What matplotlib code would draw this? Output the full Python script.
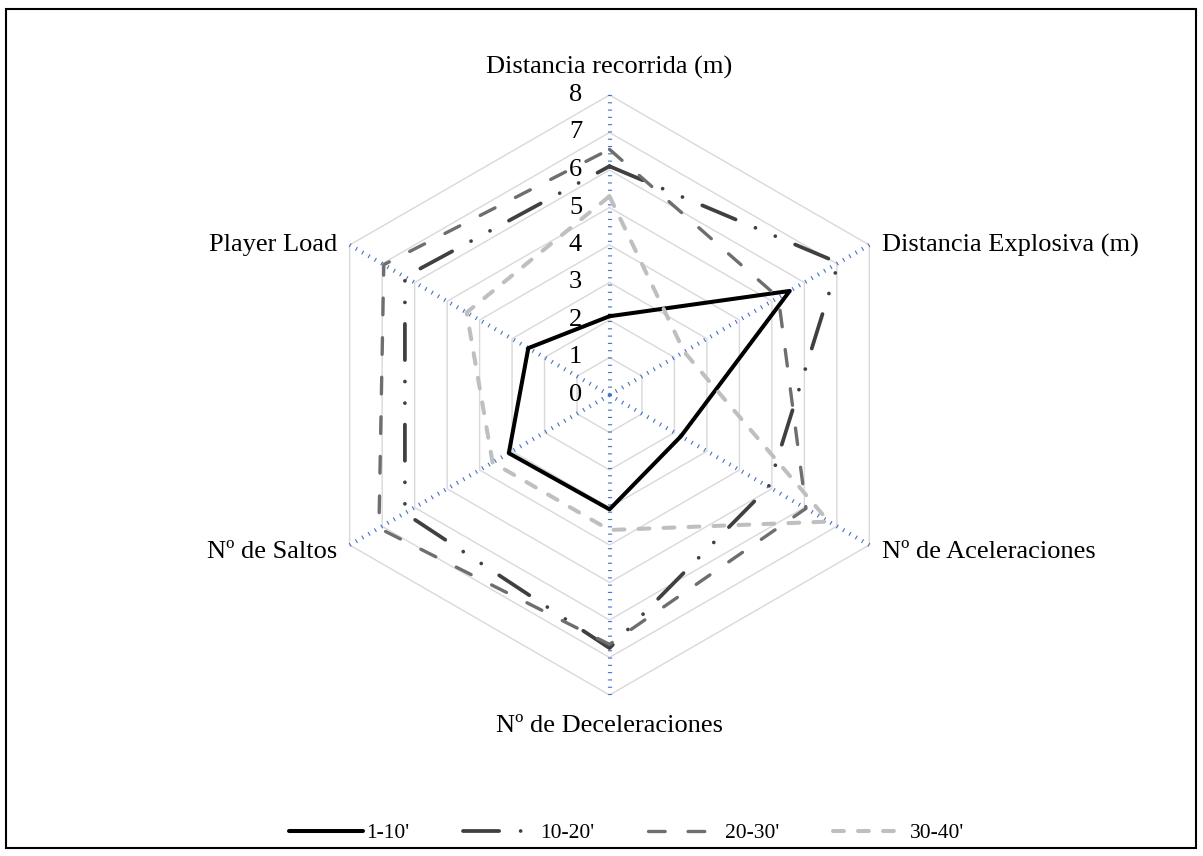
import numpy as np
import matplotlib
matplotlib.use("Agg")
import matplotlib.pyplot as plt
from matplotlib.transforms import offset_copy
from matplotlib.patches import Rectangle

plt.rcParams["font.family"] = ["Liberation Serif", "DejaVu Serif"]
plt.rcParams["lines.scale_dashes"] = False

# Indicator names (clockwise from the top)
categories = [
    "Distancia recorrida (m)",
    "Distancia Explosiva (m)",
    "Nº de Aceleraciones",
    "Nº de Deceleraciones",
    "Nº de Saltos",
    "Player Load",
]

# Values per match period
period_labels = ["1-10'", "10-20'", "20-30'", "30-40'"]
p1_10 = [2.1, 5.55, 2.2, 3.05, 3.1, 2.5]
p10_20 = [6.1, 7.05, 4.9, 6.75, 6.3, 6.3]
p20_30 = [6.55, 5.2, 6.05, 6.65, 7.1, 6.95]
p30_40 = [5.3, 2.3, 6.75, 3.6, 3.6, 4.4]

ring_values = [1, 2, 3, 4, 5, 6, 7, 8]
tick_labels = ["0", "1", "2", "3", "4", "5", "6", "7", "8"]
r_max = 8

W, H, DPI = 1203, 856, 100
fig = plt.figure(figsize=(W / DPI, H / DPI), dpi=DPI)

cx, cy, rad = 609.5, 395.0, 300.0
ax = fig.add_axes([(cx - rad) / W, (H - cy - rad) / H, 2 * rad / W, 2 * rad / H],
                  projection="polar")
ax.set_theta_offset(np.pi / 2)
ax.set_theta_direction(-1)
ax.set_ylim(0, r_max)
ax.axis("off")

n = len(categories)
theta = np.arange(n) * 2 * np.pi / n
theta_closed = np.append(theta, theta[0])

# hexagonal rings
for rv in ring_values:
    ax.plot(theta_closed, [rv] * (n + 1), color="#d9d9d9", lw=1.0, zorder=1,
            clip_on=False)

# spokes drawn as short hash marks across the axis line
for t in theta:
    ax.plot([t, t], [0, r_max], color="#4472c4", lw=3.0,
            linestyle=(0, (0.8, 4.45)), dash_capstyle="butt",
            zorder=2, clip_on=False)

# radial tick labels along the top spoke
tick_tr = offset_copy(ax.transData, fig=fig, x=-34, y=0, units="dots")
for k, lab in enumerate(tick_labels):
    ax.text(0, k, lab, transform=tick_tr, ha="center", va="center",
            fontsize=19, color="#000000", zorder=5)

# category labels around the hexagon: (dx, dy) in pixels, alignment
label_specs = [
    (0, 28, "center"),
    (13, 0, "left"),
    (13, -7, "left"),
    (0, -31, "center"),
    (-12, -7, "right"),
    (-12, 0, "right"),
]
for t, name, (dx, dy, ha) in zip(theta, categories, label_specs):
    tr = offset_copy(ax.transData, fig=fig, x=dx, y=dy, units="dots")
    ax.text(t, r_max, name, transform=tr, ha=ha, va="center", fontsize=19,
            color="#000000")

styles = [
    dict(color="#000000", lw=2.9, linestyle="-"),
    dict(color="#404040", lw=2.7,
         linestyle=(0, (26.0, 15.5, 0.01, 15.5, 0.01, 15.5))),
    dict(color="#6e6e6e", lw=2.4, linestyle=(0, (12.0, 16.5))),
    dict(color="#bfbfbf", lw=2.9, linestyle=(0, (7.8, 10.2))),
]
series = [p1_10, p10_20, p20_30, p30_40]
handles = []
for vals, lab, st in zip(series, period_labels, styles):
    v = np.append(vals, vals[0])
    (ln,) = ax.plot(theta_closed, v, label=lab, zorder=3,
                    solid_capstyle="round", dash_capstyle="round",
                    solid_joinstyle="round", clip_on=False, **st)
    handles.append(ln)

fig.legend(handles=handles, labels=period_labels, loc="center",
           bbox_to_anchor=(0.5208, (H - 833) / H), ncol=4, frameon=False,
           fontsize=15.5, handlelength=3.45, handletextpad=0.12,
           columnspacing=2.5)

# outer frame
fig.patches.append(Rectangle((6 / W, (H - 848) / H), (1196 - 6) / W, (848 - 9) / H,
                             transform=fig.transFigure, fill=False,
                             edgecolor="#000000", lw=1.5))

fig.savefig("out.png", dpi=DPI, facecolor="white")
